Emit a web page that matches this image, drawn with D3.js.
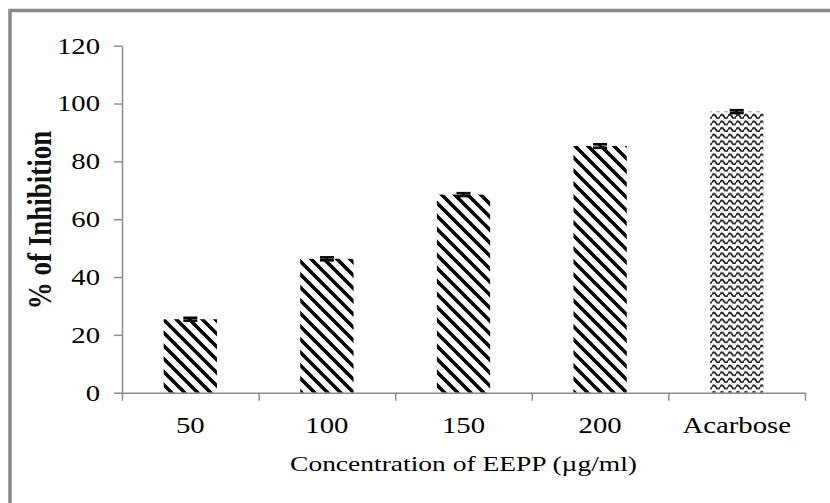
<!DOCTYPE html>
<html>
<head>
<meta charset="utf-8">
<script src="https://cdnjs.cloudflare.com/ajax/libs/d3/7.8.5/d3.min.js"></script>
<style>
    html, body { margin: 0; padding: 0; background: #fff; }
    svg { display: block; }
</style>
</head>
<body>
<div class="chart"></div>
<script>
(function () {
    "use strict";

    var categories = ["50", "100", "150", "200", "Acarbose"];
    var inhibition = [25.4, 46.3, 68.5, 85.3, 97.2];
    var errors = [0.5, 0.5, 0.5, 0.6, 0.5];
    var fills = ["hatch", "hatch", "hatch", "hatch", "wave"];
    var yTicks = [0, 20, 40, 60, 80, 100, 120];

    var config = {
        width: 830,
        height: 503,
        plot: { left: 122, right: 805, top: 45.7, bottom: 392.7 },
        stretch: 1.25,
        font: "'Liberation Serif', 'Times New Roman', serif",
        axisColor: "#8c8c8c"
    };

    var data = categories.map(function (c, i) {
        return { name: c, value: inhibition[i], err: errors[i], fill: fills[i] };
    });

    var svg = d3.select(".chart").append("svg")
        .attr("width", config.width)
        .attr("height", config.height);

    // patterns
    var defs = svg.append("defs");
    var hatch = defs.append("pattern")
        .attr("id", "hatch")
        .attr("patternUnits", "userSpaceOnUse")
        .attr("width", 13)
        .attr("height", 13);
    hatch.append("path")
        .attr("d", "M-3,-3L16,16M-3,10L3,16M10,-3L16,3")
        .attr("stroke", "#000")
        .attr("stroke-width", 3.6);

    var wave = defs.append("pattern")
        .attr("id", "wave")
        .attr("patternUnits", "userSpaceOnUse")
        .attr("width", 8)
        .attr("height", 6.6);
    wave.append("path")
        .attr("d", "M0,4.2Q2,0.4 4,4.2T8,4.2")
        .attr("fill", "none")
        .attr("stroke", "#222")
        .attr("stroke-width", 1.8);

    // frame
    svg.append("rect")
        .attr("x", 10)
        .attr("y", 10.5)
        .attr("width", 860)
        .attr("height", 540)
        .attr("fill", "none")
        .attr("stroke", "#8a8a8a")
        .attr("stroke-width", 3.5);

    var p = config.plot;

    var x = d3.scaleBand()
        .domain(categories)
        .range([p.left, p.right])
        .padding(0);

    var y = d3.scaleLinear()
        .domain([0, 120])
        .range([p.bottom, p.top]);

    var barW = x.bandwidth() * 0.39;

    // bars
    svg.append("g")
        .selectAll("rect")
        .data(data)
        .enter().append("rect")
        .attr("x", function (d) { return x(d.name) + (x.bandwidth() - barW) / 2; })
        .attr("y", function (d) { return y(d.value); })
        .attr("width", barW)
        .attr("height", function (d) { return y(0) - y(d.value); })
        .attr("fill", function (d) { return "url(#" + d.fill + ")"; });

    // error bars
    var capW = 14;
    var eb = svg.append("g")
        .attr("stroke", "#000")
        .attr("stroke-width", 2.6)
        .selectAll("g")
        .data(data)
        .enter().append("g")
        .attr("transform", function (d) { return "translate(" + (x(d.name) + x.bandwidth() / 2) + ",0)"; });
    eb.append("line")
        .attr("x1", 0).attr("x2", 0)
        .attr("y1", function (d) { return y(d.value - d.err); })
        .attr("y2", function (d) { return y(d.value + d.err); });
    eb.append("line")
        .attr("x1", -capW / 2).attr("x2", capW / 2)
        .attr("y1", function (d) { return y(d.value + d.err); })
        .attr("y2", function (d) { return y(d.value + d.err); });
    eb.append("line")
        .attr("x1", -capW / 2).attr("x2", capW / 2)
        .attr("y1", function (d) { return y(d.value - d.err); })
        .attr("y2", function (d) { return y(d.value - d.err); });

    // x axis: ticks at band edges
    var edges = categories.map(function (c) { return x(c); }).concat([p.right]);
    var xEdge = d3.scaleLinear().domain([p.left, p.right]).range([p.left, p.right]);

    var xAxisG = svg.append("g")
        .attr("transform", "translate(0," + p.bottom + ")");
    xAxisG.call(d3.axisBottom(xEdge).tickValues(edges).tickSize(8).tickSizeOuter(0).tickFormat(""));
    xAxisG.selectAll("text").remove();

    var xLabels = svg.append("g")
        .attr("transform", "translate(0," + p.bottom + ")")
        .call(d3.axisBottom(x).tickSize(0).tickPadding(24));
    xLabels.select(".domain").remove();
    xLabels.selectAll("text")
        .attr("font-family", config.font)
        .attr("font-size", 23)
        .attr("fill", "#000")
        .attr("transform", "scale(" + config.stretch + ",1)");

    // y axis
    var yAxisG = svg.append("g")
        .attr("transform", "translate(" + p.left + ",0)")
        .call(d3.axisLeft(y).tickValues(yTicks).tickSize(8).tickSizeOuter(0).tickPadding(9.6));
    yAxisG.selectAll("text")
        .attr("font-family", config.font)
        .attr("font-size", 23)
        .attr("fill", "#000")
        .attr("transform", "scale(" + config.stretch + ",1)");

    svg.selectAll(".domain, .tick line")
        .attr("stroke", config.axisColor)
        .attr("stroke-width", 1.5);

    // axis titles
    svg.append("text")
        .attr("transform", "translate(" + ((p.left + p.right) / 2) + ",471) scale(" + config.stretch + ",1)")
        .attr("text-anchor", "middle")
        .attr("font-family", config.font)
        .attr("font-size", 22)
        .attr("fill", "#000")
        .text("Concentration of EEPP (\u00b5g/ml)");

    svg.append("text")
        .attr("transform", "translate(51,220) scale(" + config.stretch + ",1) rotate(-90)")
        .attr("text-anchor", "middle")
        .attr("font-family", config.font)
        .attr("font-size", 27)
        .attr("font-weight", "bold")
        .attr("fill", "#111")
        .text("% of Inhibition");
})();
</script>
</body>
</html>
